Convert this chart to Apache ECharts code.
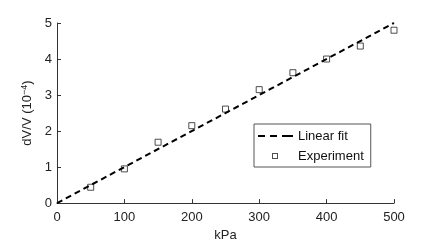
<!DOCTYPE html>
<html><head><meta charset="utf-8">
<script src="https://cdn.jsdelivr.net/npm/echarts@6/dist/echarts.min.js"></script>
<style>html,body{margin:0;padding:0;background:#fff}#c{width:436px;height:247px}</style>
</head><body><div id="c"></div>
<script>
var pressure = [50, 100, 150, 200, 250, 300, 350, 400, 450, 500];
var dvv = [0.44, 0.95, 1.69, 2.15, 2.61, 3.15, 3.62, 4.0, 4.36, 4.8];
var fitX = [0, 500];
var fitY = [0, 5];
var xTicks = [0, 100, 200, 300, 400, 500];
var yTicks = [0, 1, 2, 3, 4, 5];

var font = 'Liberation Sans, Arial, sans-serif';
var dashIcon = 'path://M0,0h0.01v0.01h-0.01z M1,6h7v2h-7z M13,6h7v2h-7z M25,6h11v2h-11z M35.99,13.99h0.01v0.01h-0.01z';
var squareIcon = 'path://M0,0h0.01v0.01h-0.01z M15,4h6v6h-6z M16,5v4h4v-4z M35.99,13.99h0.01v0.01h-0.01z';
var chart = echarts.init(document.getElementById('c'), null, {renderer: 'canvas'});
chart.setOption({
  animation: false,
  backgroundColor: '#fff',
  textStyle: {fontFamily: font},
  grid: {left: 57, right: 42, top: 23, bottom: 36},
  xAxis: {
    type: 'value', min: 0, max: 500, interval: 100,
    name: 'kPa', nameLocation: 'middle', nameGap: 25,
    nameTextStyle: {color: '#222', fontSize: 13, fontFamily: font},
    axisLine: {show: true, lineStyle: {color: '#333', width: 1}},
    axisTick: {show: true, inside: true, length: 4, lineStyle: {color: '#333'}},
    axisLabel: {color: '#222', fontSize: 13, fontFamily: font, margin: 8,
      formatter: function(v){ return xTicks.indexOf(v) >= 0 ? String(v) : ''; }},
    splitLine: {show: false}
  },
  yAxis: {
    type: 'value', min: 0, max: 5, interval: 1,
    name: '{a|dV/V (10}{s|−4}{a|)}', nameLocation: 'middle', nameGap: 22,
    nameTextStyle: {color: '#222', fontSize: 13, fontFamily: font,
      rich: {a: {fontSize: 13, fontFamily: font, color: '#222'},
             s: {fontSize: 9, fontFamily: font, color: '#222', verticalAlign: 'top', padding: [0,0,6,0]}}},
    axisLine: {show: true, lineStyle: {color: '#333', width: 1}},
    axisTick: {show: true, inside: true, length: 4, lineStyle: {color: '#333'}},
    axisLabel: {color: '#222', fontSize: 13, fontFamily: font, margin: 5,
      formatter: function(v){ return yTicks.indexOf(v) >= 0 ? String(v) : ''; }},
    splitLine: {show: false}
  },
  legend: {
    orient: 'vertical', left: 254, top: 124,
    padding: [5, 7, 4, 3], itemGap: 6, itemWidth: 36, itemHeight: 14,
    borderColor: '#555', borderWidth: 1, backgroundColor: '#fff',
    textStyle: {color: '#111', fontSize: 13, fontFamily: font},
    data: [
      {name: 'Linear fit', icon: dashIcon, itemStyle: {color: '#000', borderWidth: 0}},
      {name: 'Experiment', icon: squareIcon, itemStyle: {color: '#222', borderWidth: 0}}
    ]
  },
  series: [
    {
      name: 'Linear fit', type: 'line', symbol: 'none', z: 3,
      data: fitX.map(function(x, i){ return [x, fitY[i]]; }),
      lineStyle: {color: '#000', width: 2, type: [6, 4]},
      itemStyle: {color: '#000'}
    },
    {
      name: 'Experiment', type: 'scatter', symbol: 'rect', symbolSize: 6, z: 2,
      data: pressure.map(function(x, i){ return [x, dvv[i]]; }),
      itemStyle: {color: 'transparent', borderColor: '#222', borderWidth: 1}
    }
  ]
});
</script></body></html>
